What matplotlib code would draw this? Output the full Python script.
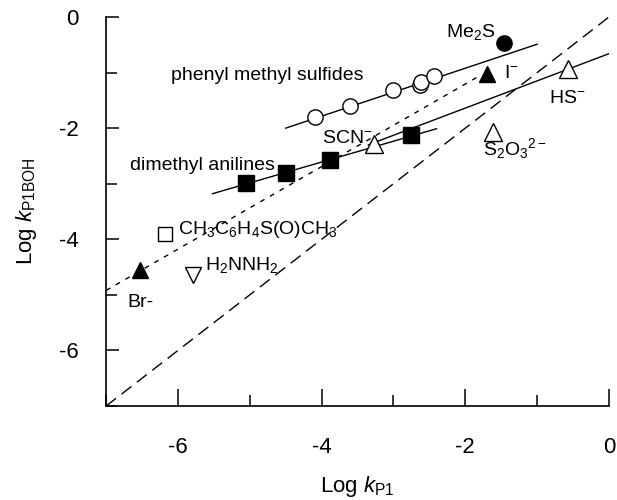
import matplotlib
matplotlib.use("Agg")
import matplotlib.pyplot as plt
import numpy as np

plt.rcParams["font.family"] = ["Liberation Sans", "DejaVu Sans"]
plt.rcParams["mathtext.fontset"] = "custom"
plt.rcParams["mathtext.rm"] = "Liberation Sans"
plt.rcParams["mathtext.it"] = "Liberation Sans:italic"

# phenyl methyl sulfides (open circles)
sulf_x = [-4.09, -3.60, -3.00, -2.63, -2.61, -2.43]
sulf_y = [-1.80, -1.60, -1.32, -1.23, -1.17, -1.06]
sulf_fit_x = [-4.50, -1.00]
sulf_fit_y = [-2.00, -0.49]

# dimethyl anilines (filled squares)
anil_x = [-5.05, -4.49, -3.88, -2.75]
anil_y = [-2.98, -2.81, -2.57, -2.13]
anil_fit_x = [-5.52, -2.40]
anil_fit_y = [-3.18, -2.01]

# inorganic nucleophiles
open_tri_x = [-3.27, -1.61, -0.57]   # SCN-, S2O3 2-, HS-
open_tri_y = [-2.28, -2.07, -0.94]
fill_tri_x = [-6.53, -1.70]          # Br-, I-
fill_tri_y = [-4.56, -1.02]
me2s_x, me2s_y = [-1.46], [-0.46]
sulfoxide_x, sulfoxide_y = [-6.18], [-3.90]
hydrazine_x, hydrazine_y = [-5.79], [-4.65]

# solid fit through SCN- / HS-
nuc_fit_x = [-3.35, 0.0]
nuc_fit_y = [-2.30, -0.66]
# short-dashed line through Br- and I-
halide_fit_x = [-7.0, -1.83]
halide_fit_y = [-4.92, -1.08]
# unity line
unity_x = [-7.0, 0.0]
unity_y = [-7.0, 0.0]

fig = plt.figure(figsize=(6.17, 5.0), dpi=100)
ax = fig.add_axes([0.172, 0.188, 0.815, 0.778])

ax.plot(unity_x, unity_y, color="black", lw=1.0, dashes=(9, 5))
ax.plot(halide_fit_x, halide_fit_y, color="black", lw=1.0, dashes=(3.5, 4.5))
ax.plot(sulf_fit_x, sulf_fit_y, color="black", lw=1.0)
ax.plot(anil_fit_x, anil_fit_y, color="black", lw=1.0)
ax.plot(nuc_fit_x, nuc_fit_y, color="black", lw=1.0)

ax.plot(sulf_x, sulf_y, "o", ms=11, mfc="white", mec="black", mew=1.0)
ax.plot(anil_x, anil_y, "s", ms=11, mfc="black", mec="black")
ax.plot(open_tri_x, open_tri_y, "^", ms=13, mfc="white", mec="black", mew=1.0)
ax.plot(fill_tri_x, fill_tri_y, "^", ms=12, mfc="black", mec="black")
ax.plot(me2s_x, me2s_y, "o", ms=11, mfc="black", mec="black")
ax.plot(sulfoxide_x, sulfoxide_y, "s", ms=10, mfc="white", mec="black", mew=1.0)
ax.plot(hydrazine_x, hydrazine_y, "v", ms=12, mfc="white", mec="black", mew=1.0)

fs = 14
ax.text(-6.09, -1.05, "phenyl methyl sulfides", fontsize=fs, va="center")
ax.text(-6.67, -2.67, "dimethyl anilines", fontsize=fs, va="center")
ax.text(-1.58, -0.27, r"Me$_2$S", fontsize=fs, va="center", ha="right")
ax.text(-1.46, -1.01, r"I$^{-}$", fontsize=fs, va="center")
ax.text(-0.58, -1.46, r"HS$^{-}$", fontsize=fs, va="center", ha="center")
ax.text(-1.76, -2.36, r"S$_2$O$_{3}{}^{2-}$", fontsize=fs, va="center")
ax.text(-4.00, -2.18, r"SCN$^{-}$", fontsize=fs, va="center")
ax.text(-6.00, -3.82, r"CH$_3$C$_6$H$_4$S(O)CH$_3$", fontsize=fs, va="center")
ax.text(-5.63, -4.47, r"H$_2$NNH$_2$", fontsize=fs, va="center")
ax.text(-6.71, -5.13, "Br-", fontsize=fs, va="center")

ax.set_xlim(-7, 0)
ax.set_ylim(-7, 0)
ax.set_xticks([-6, -4, -2, 0])
ax.set_xticks([-7, -5, -3, -1], minor=True)
ax.set_yticks([-6, -4, -2, 0])
ax.set_yticks([-7, -5, -3, -1], minor=True)
ax.tick_params(axis="both", which="both", direction="in", width=1.1, labelsize=16)
ax.tick_params(axis="x", which="major", length=12, pad=22)
ax.tick_params(axis="x", which="minor", length=8)
ax.tick_params(axis="y", which="major", length=9, pad=20)
ax.tick_params(axis="y", which="minor", length=8)
fmt = matplotlib.ticker.FuncFormatter(lambda v, p: f"{v:.0f}")
ax.xaxis.set_major_formatter(fmt)
ax.yaxis.set_major_formatter(fmt)

for side in ["top", "right"]:
    ax.spines[side].set_visible(False)
for side in ["left", "bottom"]:
    ax.spines[side].set_linewidth(1.2)

ax.set_xlabel(r"Log $\mathit{k}_{\mathrm{P1}}$", fontsize=16, labelpad=12)
ax.set_ylabel(r"Log $\mathit{k}_{\mathrm{P1BOH}}$", fontsize=16, labelpad=14)

fig.savefig("out.png", dpi=100)
